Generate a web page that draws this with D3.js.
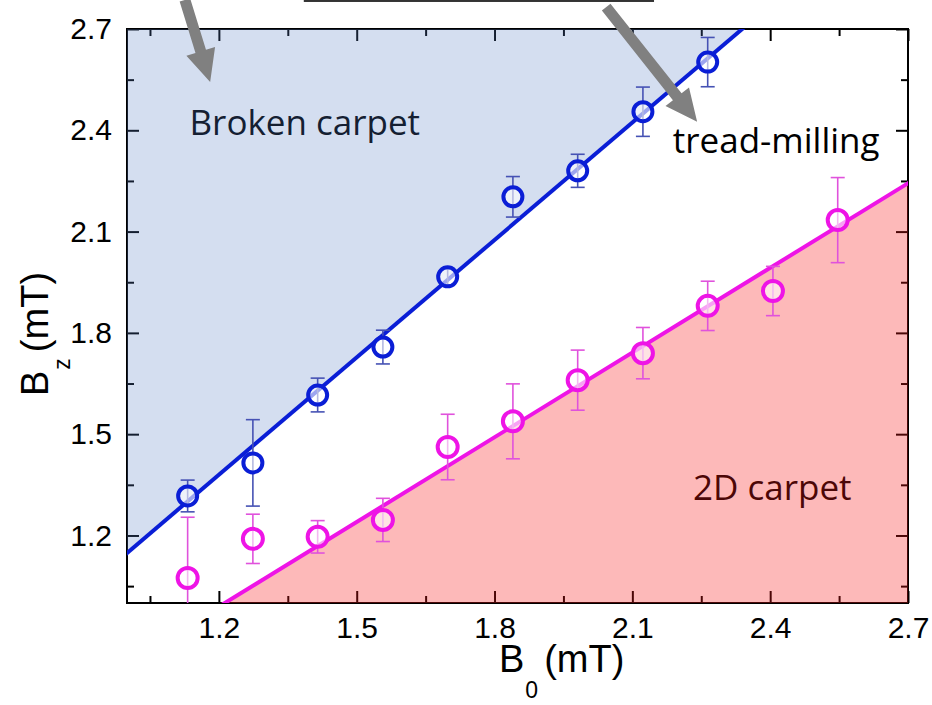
<!DOCTYPE html>
<html>
<head>
<meta charset="utf-8">
<script src="https://cdn.jsdelivr.net/npm/d3@7"></script>
<style>
  html, body { margin: 0; padding: 0; background: #fff; }
  svg { display: block; }
</style>
</head>
<body>
<div id="chart"></div>
<script>
// Data
const b0Values = [1.132, 1.274, 1.415, 1.557, 1.698, 1.840, 1.981, 2.123, 2.264, 2.406, 2.547];

// broken carpet boundary (blue)
const blueBz  = [1.317, 1.415, 1.616, 1.758, 1.966, 2.203, 2.280, 2.455, 2.602];
const blueErr = [0.047, 0.128, 0.050, 0.050, 0.025, 0.060, 0.049, 0.073, 0.073];

// 2D carpet boundary (magenta)
const pinkBz  = [1.074, 1.190, 1.196, 1.246, 1.462, 1.538, 1.660, 1.740, 1.880, 1.924, 2.134];
const pinkErr = [0.180, 0.073, 0.048, 0.064, 0.097, 0.111, 0.089, 0.076, 0.073, 0.073, 0.126];

// linear fits: Bz = slope * B0 + intercept
const blueFit = { slope: 1.159, intercept: -0.011 };
const pinkFit = { slope: 0.836, intercept: -0.014 };

const majorTicks = [1.2, 1.5, 1.8, 2.1, 2.4, 2.7];
const minorTicks = [1.05, 1.35, 1.65, 1.95, 2.25, 2.55];

// annotations, in data units (they reach above the frame)
const arrows = [
    { from: [1.126, 2.786], to: [1.181, 2.543] },
    { from: [2.043, 2.765], to: [2.241, 2.425] }
];
const labelBox = { x0: 1.387, x1: 2.145, y: 2.783 };

const regionLabels = [
    { text: 'Broken carpet', x: 1.136, y: 2.386 },
    { text: 'tread-milling', x: 2.188, y: 2.333 },
    { text: '2D carpet', x: 2.232, y: 1.305 }
];

// Layout
const width = 932, height = 705;
const margin = { top: 29, right: 24, bottom: 102, left: 127 };
const innerW = width - margin.left - margin.right;
const innerH = height - margin.top - margin.bottom;

const x = d3.scaleLinear().domain([1.0, 2.7]).range([0, innerW]);
const y = d3.scaleLinear().domain([1.0, 2.7]).range([innerH, 0]);

const svg = d3.select('#chart').append('svg')
    .attr('width', width)
    .attr('height', height);

const g = svg.append('g')
    .attr('transform', `translate(${margin.left},${margin.top})`);

g.append('defs').append('clipPath')
    .attr('id', 'plotClip')
    .append('rect')
    .attr('width', innerW)
    .attr('height', innerH);

// Axes with inward ticks on all four sides
const tickFont = "'Liberation Sans', Arial, sans-serif";

function styleAxis(sel) {
    sel.select('.domain').remove();
    sel.selectAll('line').attr('stroke', '#000').attr('stroke-width', 2);
    sel.selectAll('text')
        .attr('font-family', tickFont)
        .attr('font-size', 30)
        .attr('fill', '#000');
}

g.append('g')
    .attr('transform', `translate(0,${innerH})`)
    .call(d3.axisBottom(x).tickValues(majorTicks).tickSize(-12).tickPadding(14).tickFormat(d3.format('.1f')))
    .call(styleAxis);
g.append('g')
    .attr('transform', `translate(0,${innerH})`)
    .call(d3.axisBottom(x).tickValues(minorTicks).tickSize(-7).tickFormat(''))
    .call(styleAxis);
g.append('g')
    .call(d3.axisTop(x).tickValues(majorTicks).tickSize(-12).tickFormat(''))
    .call(styleAxis);
g.append('g')
    .call(d3.axisTop(x).tickValues(minorTicks).tickSize(-7).tickFormat(''))
    .call(styleAxis);

g.append('g')
    .call(d3.axisLeft(y).tickValues(majorTicks).tickSize(-12).tickPadding(15).tickFormat(d3.format('.1f')))
    .call(styleAxis);
g.append('g')
    .call(d3.axisLeft(y).tickValues(minorTicks).tickSize(-7).tickFormat(''))
    .call(styleAxis);
g.append('g')
    .attr('transform', `translate(${innerW},0)`)
    .call(d3.axisRight(y).tickValues(majorTicks).tickSize(-12).tickFormat(''))
    .call(styleAxis);
g.append('g')
    .attr('transform', `translate(${innerW},0)`)
    .call(d3.axisRight(y).tickValues(minorTicks).tickSize(-7).tickFormat(''))
    .call(styleAxis);

g.append('rect')
    .attr('width', innerW)
    .attr('height', innerH)
    .attr('fill', 'none')
    .attr('stroke', '#000')
    .attr('stroke-width', 2);

// Region labels (under the tinted fills, so they pick up the tint)
const labelFont = "'Open Sans', 'Noto Sans', sans-serif";
g.selectAll('.region-label')
    .data(regionLabels)
    .enter().append('text')
    .attr('class', 'region-label')
    .attr('x', d => x(d.x))
    .attr('y', d => y(d.y))
    .attr('font-family', labelFont)
    .attr('font-size', 35)
    .attr('fill', '#000')
    .text(d => d.text);

// Tinted regions above / below the fit lines
const plot = g.append('g').attr('clip-path', 'url(#plotClip)');
const fitY = (fit, b) => fit.slope * b + fit.intercept;
const xLo = 0.9, xHi = 2.8;

plot.append('path')
    .attr('d', d3.line()([
        [x(xLo), y(fitY(blueFit, xLo))],
        [x(xHi), y(fitY(blueFit, xHi))],
        [x(xHi), y(3.5)],
        [x(xLo), y(3.5)]
    ]) + 'Z')
    .attr('fill', 'rgb(83,123,195)')
    .attr('fill-opacity', 0.25);

plot.append('path')
    .attr('d', d3.line()([
        [x(xLo), y(fitY(pinkFit, xLo))],
        [x(xHi), y(fitY(pinkFit, xHi))],
        [x(xHi), y(0.5)],
        [x(xLo), y(0.5)]
    ]) + 'Z')
    .attr('fill', 'rgb(248,22,22)')
    .attr('fill-opacity', 0.3);

// Fit lines
[[blueFit, '#0a1ed6'], [pinkFit, '#ee14e6']].forEach(([fit, col]) => {
    plot.append('line')
        .attr('x1', x(xLo)).attr('y1', y(fitY(fit, xLo)))
        .attr('x2', x(xHi)).attr('y2', y(fitY(fit, xHi)))
        .attr('stroke', col)
        .attr('stroke-width', 4);
});

// Points with error bars
function drawSeries(vals, errs, lineCol, errCol, r) {
    const pts = vals.map((v, i) => ({ b0: b0Values[i], bz: v, err: errs[i] }));
    const eb = plot.append('g')
        .attr('stroke', errCol)
        .attr('stroke-width', 1.6);
    pts.forEach(d => {
        const cx = x(d.b0), top = y(d.bz + d.err), bot = y(d.bz - d.err);
        eb.append('line').attr('x1', cx).attr('x2', cx).attr('y1', top).attr('y2', bot);
        eb.append('line').attr('x1', cx - 7).attr('x2', cx + 7).attr('y1', top).attr('y2', top);
        eb.append('line').attr('x1', cx - 7).attr('x2', cx + 7).attr('y1', bot).attr('y2', bot);
    });
    plot.append('g').selectAll('circle')
        .data(pts)
        .enter().append('circle')
        .attr('cx', d => x(d.b0))
        .attr('cy', d => y(d.bz))
        .attr('r', r)
        .attr('fill', '#fff')
        .attr('fill-opacity', 0.6)
        .attr('stroke', lineCol)
        .attr('stroke-width', 4);
}
drawSeries(blueBz, blueErr, '#0a1ed6', '#4652b4', 9.5);
drawSeries(pinkBz, pinkErr, '#ee14e6', '#e052dc', 10);

// Annotation box edge and arrows at the top
g.append('rect')
    .attr('x', x(labelBox.x0))
    .attr('y', y(labelBox.y) - 40)
    .attr('width', x(labelBox.x1) - x(labelBox.x0))
    .attr('height', 40)
    .attr('fill', 'none')
    .attr('stroke', '#333')
    .attr('stroke-width', 2);

function arrowPath(p0, p1, shaftW, headL, headW) {
    const dx = p1[0] - p0[0], dy = p1[1] - p0[1];
    const len = Math.hypot(dx, dy);
    const ux = dx / len, uy = dy / len, nx = -uy, ny = ux;
    const bx = p1[0] - ux * headL, by = p1[1] - uy * headL;
    const pts = [
        [p0[0] + nx * shaftW / 2, p0[1] + ny * shaftW / 2],
        [bx + nx * shaftW / 2, by + ny * shaftW / 2],
        [bx + nx * headW / 2, by + ny * headW / 2],
        p1,
        [bx - nx * headW / 2, by - ny * headW / 2],
        [bx - nx * shaftW / 2, by - ny * shaftW / 2],
        [p0[0] - nx * shaftW / 2, p0[1] - ny * shaftW / 2]
    ];
    return d3.line()(pts) + 'Z';
}
g.selectAll('.arrow')
    .data(arrows)
    .enter().append('path')
    .attr('class', 'arrow')
    .attr('d', d => arrowPath([x(d.from[0]), y(d.from[1])], [x(d.to[0]), y(d.to[1])], 11, 32, 30))
    .attr('fill', '#808080');

// Axis titles
const xTitle = svg.append('text')
    .attr('x', 499)
    .attr('y', 672)
    .attr('font-family', tickFont)
    .attr('font-size', 38)
    .attr('fill', '#000');
xTitle.append('tspan').text('B');
xTitle.append('tspan').attr('font-size', 23).attr('dy', 26).attr('dx', 1).text('0');
xTitle.append('tspan').attr('dy', -26).attr('dx', 6).text('(mT)');

const yTitle = svg.append('text')
    .attr('transform', 'translate(48,396) rotate(-90)')
    .attr('font-family', tickFont)
    .attr('font-size', 38)
    .attr('fill', '#000');
yTitle.append('tspan').text('B');
yTitle.append('tspan').attr('font-size', 23).attr('dy', 22).attr('dx', 1).text('z');
yTitle.append('tspan').attr('dy', -22).attr('dx', 6).text('(mT)');
</script>
</body>
</html>
